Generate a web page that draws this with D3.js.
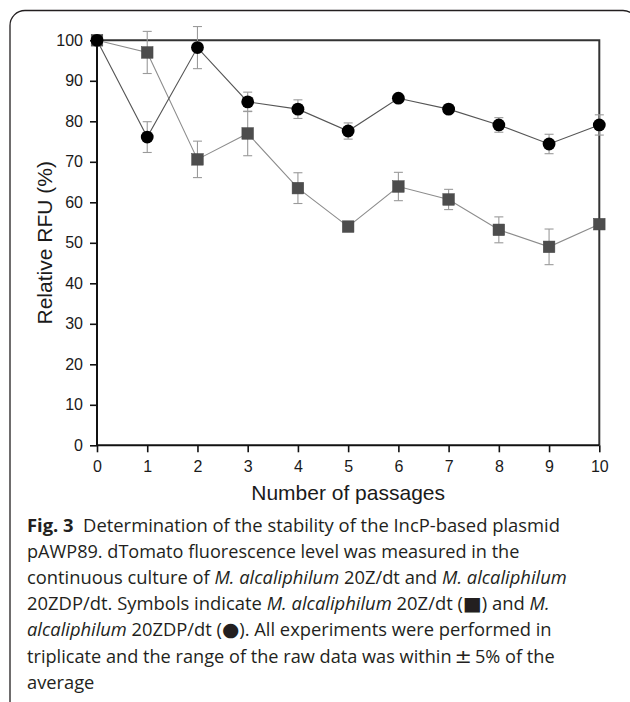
<!DOCTYPE html>
<html>
<head>
<meta charset="utf-8">
<script src="https://cdn.jsdelivr.net/npm/d3@7"></script>
<style>
  html, body { margin: 0; padding: 0; background: #fff; }
  svg { display: block; }
</style>
</head>
<body>
<svg id="chart" width="630" height="702"></svg>
<script>
// ---------- data ----------
const passages = [0, 1, 2, 3, 4, 5, 6, 7, 8, 9, 10];
const xTicks = [0, 1, 2, 3, 4, 5, 6, 7, 8, 9, 10];
const yTicks = [0, 10, 20, 30, 40, 50, 60, 70, 80, 90, 100];
// M. alcaliphilum 20ZDP/dt (circles)
const zdpValues = [100, 76.1, 98.2, 84.8, 83.0, 77.6, 85.7, 83.0, 79.1, 74.4, 79.1];
const zdpErr    = [0.5, 3.8, 5.2, 2.4, 2.3, 2.0, 0.8, 0.8, 1.8, 2.4, 2.5];
// M. alcaliphilum 20Z/dt (squares)
const zValues = [100, 97.0, 70.6, 77.0, 63.5, 54.0, 63.9, 60.7, 53.2, 49.0, 54.6];
const zErr    = [0.5, 5.2, 4.5, 5.5, 3.8, 0.8, 3.5, 2.5, 3.2, 4.4, 1.0];

const xTitle = "Number of passages";
const yTitle = "Relative RFU (%)";

const captionLines = [
  [["Fig. 3", "b"], ["  Determination of the stability of the IncP-based plasmid", "n"]],
  [["pAWP89. dTomato fluorescence level was measured in the", "n"]],
  [["continuous culture of ", "n"], ["M. alcaliphilum", "i"], [" 20Z/dt and ", "n"], ["M. alcaliphilum", "i"]],
  [["20ZDP/dt. Symbols indicate ", "n"], ["M. alcaliphilum", "i"], [" 20Z/dt (", "n"], ["\u25A0", "g"], [") and ", "n"], ["M.", "i"]],
  [["alcaliphilum", "i"], [" 20ZDP/dt (", "n"], ["\u25CF", "g"], ["). All experiments were performed in", "n"]],
  [["triplicate and the range of the raw data was within\u2009", "n"], ["\u00B1", "pm"], ["\u20095% of the", "n"]],
  [["average", "n"]]
];
// layout for caption (right end of each wrapped line, px)
const captionEnds = [560, 520, 567, 550, 552, 555, null];

(function () {
// ---------- layout ----------
const svg = d3.select("#chart");
const pL = 97, pR = 599.3, pT = 40.3, pB = 445.3;

// outer rounded frame
svg.append("rect")
  .attr("x", 10).attr("y", 10.5)
  .attr("width", 628).attr("height", 800)
  .attr("rx", 15).attr("ry", 15)
  .attr("fill", "none").attr("stroke", "#231f20").attr("stroke-width", 1.3);

const x = d3.scaleLinear().domain([0, 10]).range([pL, pR]);
const y = d3.scaleLinear().domain([0, 100]).range([pB, pT]);

// top & right frame
svg.append("path")
  .attr("d", `M${pL},${y(100)}H${x(10)}V${y(0)}`)
  .attr("fill", "none").attr("stroke", "#333").attr("stroke-width", 2);

const tickFont = "'Liberation Sans', Arial, sans-serif";

const gx = svg.append("g").attr("transform", `translate(0,${pB})`)
  .call(d3.axisBottom(x).tickValues(xTicks).tickFormat(d3.format("d")).tickSize(7).tickPadding(8.5));
const gy = svg.append("g").attr("transform", `translate(${pL},0)`)
  .call(d3.axisLeft(y).tickValues(yTicks).tickFormat(d3.format("d")).tickSize(7).tickPadding(7));

[gx, gy].forEach(g => {
  g.select(".domain").attr("stroke", "#111").attr("stroke-width", 2);
  g.selectAll(".tick line").attr("stroke", "#111").attr("stroke-width", 1.6);
  g.selectAll(".tick text").attr("font-family", tickFont).attr("font-size", 16).attr("fill", "#1a1a1a");
});
gx.select(".domain").attr("d", `M${pL},0H${pR}`);
gy.select(".domain").attr("d", `M0,${pB}V${pT}`);

// axis titles
svg.append("text")
  .attr("x", (pL + pR) / 2).attr("y", 500)
  .attr("text-anchor", "middle")
  .attr("font-family", tickFont).attr("font-size", 21).attr("fill", "#1a1a1a")
  .text(xTitle);
svg.append("text")
  .attr("transform", `translate(52,${(pT + pB) / 2}) rotate(-90)`)
  .attr("text-anchor", "middle")
  .attr("font-family", tickFont).attr("font-size", 21).attr("fill", "#1a1a1a")
  .text(yTitle);

// ---------- series ----------
const line = d3.line().x(d => x(d[0])).y(d => y(d[1]));

function drawSeries(values, errs, lineColor, shape) {
  const pts = passages.map((p, i) => [p, values[i], errs[i]]);
  svg.append("path").datum(pts).attr("d", line)
    .attr("fill", "none").attr("stroke", lineColor).attr("stroke-width", 1.1);
  const eb = svg.append("g").attr("stroke", "#9a9a9a").attr("stroke-width", 1.1);
  pts.forEach(d => {
    const cx = x(d[0]), y1 = y(d[1] + d[2]), y2 = y(d[1] - d[2]);
    eb.append("line").attr("x1", cx).attr("x2", cx).attr("y1", y1).attr("y2", y2);
    eb.append("line").attr("x1", cx - 4.5).attr("x2", cx + 4.5).attr("y1", y1).attr("y2", y1);
    eb.append("line").attr("x1", cx - 4.5).attr("x2", cx + 4.5).attr("y1", y2).attr("y2", y2);
  });
  if (shape === "square") {
    svg.append("g").selectAll("rect").data(pts).join("rect")
      .attr("x", d => x(d[0]) - 5.8).attr("y", d => y(d[1]) - 5.8)
      .attr("width", 11.6).attr("height", 11.6)
      .attr("fill", "#4d4d4d").attr("stroke", "#444").attr("stroke-width", 0.5);
  } else {
    svg.append("g").selectAll("circle").data(pts).join("circle")
      .attr("cx", d => x(d[0])).attr("cy", d => y(d[1])).attr("r", 6.4)
      .attr("fill", "#000");
  }
}
drawSeries(zValues, zErr, "#8c8c8c", "square");
drawSeries(zdpValues, zdpErr, "#555", "circle");

// ---------- caption ----------
const capX = 27, capBase = 532, capStep = 26.1;
const capFont = "'Open Sans', 'Noto Sans', sans-serif";
const scales = [];
const capTexts = captionLines.map((segs, i) => {
  const t = svg.append("text")
    .attr("x", 0).attr("y", 0)
    .attr("font-family", capFont).attr("font-size", 17.5).attr("fill", "#231f20")
    .attr("xml:space", "preserve").style("white-space", "pre");
  segs.forEach(([s, st]) => {
    const ts = t.append("tspan").text(s);
    if (st === "b") ts.attr("font-weight", "bold");
    if (st === "i") ts.attr("font-style", "italic");
    if (st === "g") ts.attr("font-family", "'DejaVu Sans', sans-serif").attr("font-size", 19);
    if (st === "pm") ts.attr("font-family", "'DejaVu Sans', sans-serif").attr("font-size", 20);
  });
  const len = t.node().getComputedTextLength();
  if (captionEnds[i] != null) scales.push((captionEnds[i] - capX) / len);
  return [t, len];
});
const avgScale = d3.mean(scales);
capTexts.forEach(([t, len], i) => {
  const sx = captionEnds[i] != null ? (captionEnds[i] - capX) / len : avgScale;
  t.attr("transform", `translate(${capX},${capBase + i * capStep}) scale(${sx},1)`);
});
})();
</script>
</body>
</html>
